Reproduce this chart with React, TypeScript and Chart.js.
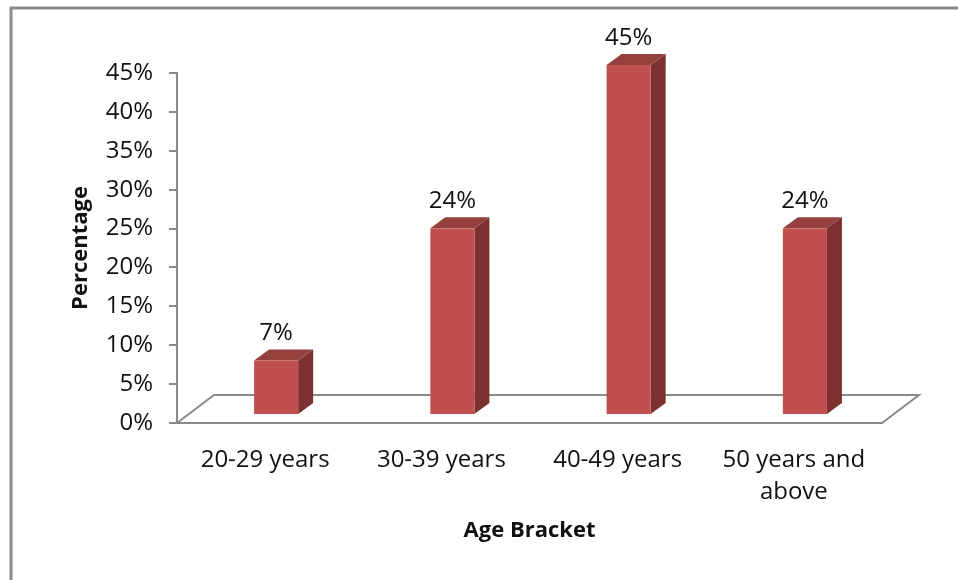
import React, { useEffect, useRef } from "react";
import { Chart, registerables } from "chart.js";

Chart.register(...registerables);

// ---- data ----
const categories: (string | string[])[] = ["20-29 years", "30-39 years", "40-49 years", ["50 years and", "above"]];
const percentages: number[] = [7, 24, 45, 24];
const yMin = 0;
const yMax = 45;
const yStep = 5;
const xTitle = "Age Bracket";
const yTitle = "Percentage";

// ---- styles ----
const FONT = "'Open Sans', 'DejaVu Sans', sans-serif";
const TEXT = "#111111";
const GRAY = "#8a8a8a";
const FRONT = "#C0504D";
const TOP = "#94403D";
const SIDE = "#7C3130";
const FLOOR_DX = 37;
const FLOOR_DY = 28;
const BAR_SHIFT_X = 11;
const BAR_SHIFT_Y = 8;
const BAR_DX = 15;
const BAR_DY = 11;
const LABEL_SIZE = 24;

const threeDPlugin = {
  id: "threeD",
  beforeDraw(chart: any) {
    const { ctx } = chart;
    ctx.save();
    ctx.fillStyle = "#ffffff";
    ctx.fillRect(0, 0, chart.width, chart.height);
    ctx.strokeStyle = GRAY;
    ctx.lineWidth = 3;
    ctx.beginPath();
    ctx.moveTo(11, chart.height);
    ctx.lineTo(11, 8);
    ctx.lineTo(chart.width, 8);
    ctx.stroke();
    ctx.restore();
  },
  beforeDatasetsDraw(chart: any) {
    const { ctx } = chart;
    const { left, right, bottom } = chart.chartArea;
    ctx.save();
    ctx.strokeStyle = GRAY;
    ctx.lineWidth = 2;
    ctx.lineJoin = "miter";
    ctx.beginPath();
    ctx.moveTo(left, bottom);
    ctx.lineTo(left + FLOOR_DX, bottom - FLOOR_DY);
    ctx.lineTo(right + FLOOR_DX, bottom - FLOOR_DY);
    ctx.lineTo(right, bottom);
    ctx.closePath();
    ctx.stroke();
    ctx.restore();
  },
  afterDatasetsDraw(chart: any) {
    const { ctx } = chart;
    const meta = chart.getDatasetMeta(0);
    ctx.save();
    meta.data.forEach((bar: any, i: number) => {
      const { x, y, base, width } = bar.getProps(["x", "y", "base", "width"], true);
      const l = x - width / 2 + BAR_SHIFT_X;
      const r = x + width / 2 + BAR_SHIFT_X;
      const t = y - BAR_SHIFT_Y;
      const b = base - BAR_SHIFT_Y;
      // side
      ctx.fillStyle = SIDE;
      ctx.beginPath();
      ctx.moveTo(r, b);
      ctx.lineTo(r + BAR_DX, b - BAR_DY);
      ctx.lineTo(r + BAR_DX, t - BAR_DY);
      ctx.lineTo(r, t);
      ctx.closePath();
      ctx.fill();
      // top
      ctx.fillStyle = TOP;
      ctx.beginPath();
      ctx.moveTo(l, t);
      ctx.lineTo(l + BAR_DX, t - BAR_DY);
      ctx.lineTo(r + BAR_DX, t - BAR_DY);
      ctx.lineTo(r, t);
      ctx.closePath();
      ctx.fill();
      // front
      ctx.fillStyle = FRONT;
      ctx.fillRect(l, t, r - l, b - t);
      // value label
      ctx.fillStyle = TEXT;
      ctx.font = `${LABEL_SIZE}px ${FONT}`;
      ctx.textAlign = "center";
      ctx.textBaseline = "middle";
      ctx.fillText(`${percentages[i]}%`, (l + r) / 2, t - BAR_DY - 16);
    });
    ctx.restore();
  },
};

export default function App() {
  const ref = useRef<HTMLCanvasElement>(null);
  useEffect(() => {
    if (!ref.current) return;
    const chart = new Chart(ref.current, {
      type: "bar",
      data: {
        labels: categories,
        datasets: [
          {
            data: percentages,
            backgroundColor: "rgba(0,0,0,0)",
            borderWidth: 0,
            barPercentage: 0.25,
            categoryPercentage: 1,
          },
        ],
      },
      options: {
        animation: false,
        responsive: false,
        devicePixelRatio: 1,
        layout: { padding: { top: 73, right: 76, left: 0, bottom: 0 } },
        plugins: { legend: { display: false }, tooltip: { enabled: false } },
        scales: {
          x: {
            type: "category",
            offset: true,
            grid: { display: false, drawTicks: false },
            border: { display: false },
            ticks: {
              font: { family: FONT, size: LABEL_SIZE, lineHeight: 1.33 },
              color: TEXT,
              padding: 21,
              maxRotation: 0,
              autoSkip: false,
            },
            title: {
              display: true,
              text: xTitle,
              color: TEXT,
              font: { family: FONT, size: 22, weight: "bold", lineHeight: 1.2 },
              padding: { top: 0, bottom: 36 },
            },
            afterFit: (s: any) => {
              s.height = 157;
            },
          },
          y: {
            min: yMin,
            max: yMax,
            ticks: {
              stepSize: yStep,
              callback: (v: any) => `${v}%`,
              font: { family: FONT, size: LABEL_SIZE },
              color: TEXT,
              padding: 16,
            },
            grid: { drawOnChartArea: false, drawTicks: true, tickLength: 8, color: GRAY, lineWidth: 2 },
            border: { color: GRAY, width: 2 },
            title: {
              display: true,
              text: yTitle,
              color: TEXT,
              font: { family: FONT, size: 22, weight: "bold", lineHeight: 1.2 },
              padding: { top: 68, bottom: 0 },
            },
            afterFit: (s: any) => {
              s.width = 177;
            },
          },
        },
      } as any,
      plugins: [threeDPlugin],
    });
    return () => chart.destroy();
  }, []);
  return (
    <div style={{ position: "absolute", left: 0, top: 0, width: 958, height: 580, background: "#fff" }}>
      <canvas ref={ref} width={958} height={580} style={{ display: "block" }} />
    </div>
  );
}
